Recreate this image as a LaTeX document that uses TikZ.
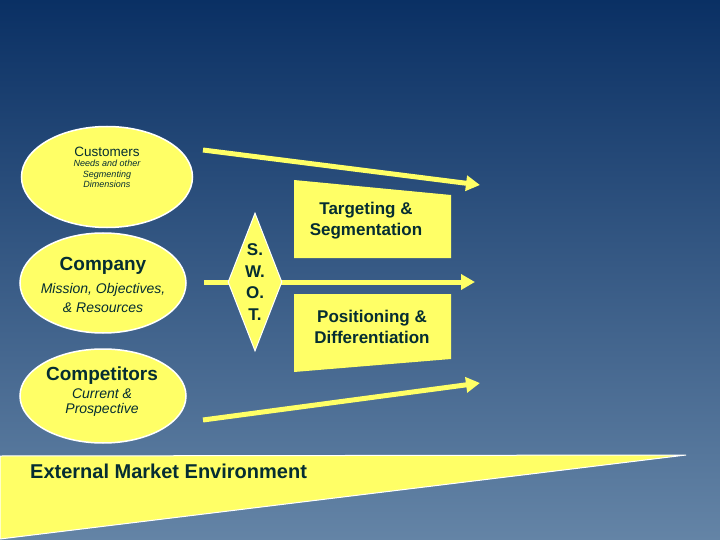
\documentclass[tikz,border=0pt]{standalone}
\usepackage{fontspec}
\setmainfont{Liberation Sans}
\usepackage{tikz}
\usetikzlibrary{shapes.geometric}
\usetikzlibrary{arrows.meta, positioning}
\definecolor{bgtop}{RGB}{10,48,100}
\definecolor{bgmid}{RGB}{56,88,132}
\definecolor{bgbot}{RGB}{100,132,166}
\definecolor{pale}{RGB}{255,255,102}
\definecolor{ink}{RGB}{5,45,50}
\newcommand{\fsize}[2]{\fontsize{#1}{#2}\selectfont}

\begin{document}
\begin{tikzpicture}[x=1pt, y=-1pt,
	blob/.style={ellipse, fill=pale, draw=white, line width=1.5pt, inner sep=0pt},
	arr/.style={pale, line width=5pt, -{Triangle[length=14pt, width=15pt]}},
	lbl/.style={text=ink, align=center, inner sep=0pt}]
	\useasboundingbox (0,0) rectangle (720,540);
	\shade[top color=bgtop, middle color=bgmid, bottom color=bgbot] (0,0) rectangle (720,540);
	% External market wedge
	\draw[fill=pale, draw=white, line width=1pt] (0,456) -- (686,455) -- (0,539) -- cycle;
	\node[lbl, anchor=west, font=\bfseries\fsize{20}{24}] (ext) at (30,471) {External Market Environment};

	% Ellipses on the left
	\node[blob, minimum width=171pt, minimum height=101pt] (cust) at (107,177) {};
	\node[lbl, font=\fsize{13.5}{16}] (custname) at (107,152) {Customers};
	\node[lbl, font=\itshape\fsize{9}{10.5}] (custsub) at (107,174) {Needs and other\\Segmenting\\Dimensions};

	\node[blob, minimum width=166pt, minimum height=100pt] (comp) at (103,283) {};
	\node[lbl, font=\bfseries\fsize{19}{22}] (compname) at (103,266) {Company};
	\node[lbl, font=\itshape\fsize{14}{19}] (compsub) at (103,297.5) {Mission, Objectives,\\\& Resources};

	\node[blob, minimum width=166pt, minimum height=94pt] (rival) at (103,396) {};
	\node[lbl, font=\bfseries\fsize{19}{22}] (rivalname) at (102,376) {Competitors};
	\node[lbl, font=\itshape\fsize{14}{15}] (rivalsub) at (102,402.5) {Current \&\\Prospective};

	% Arrows
	\coordinate (a1) at (203,150);
	\coordinate (b1) at (480,185);
	\coordinate (a2) at (204,282);
	\coordinate (b2) at (475,282);
	\coordinate (a3) at (203,420);
	\coordinate (b3) at (480,383);
	\draw[arr] (a1) -- (b1);
	\draw[arr] (a2) -- (b2);
	\draw[arr] (a3) -- (b3);

	% Boxes on the right
	\fill[pale] (294,180) -- (451,195) -- (451,258) -- (294,258) -- cycle;
	\node[lbl, font=\bfseries\fsize{17}{21}] (tgt) at (366,220.5) {Targeting \&\\Segmentation};
	\fill[pale] (294,294) -- (451,294) -- (451,359) -- (294,372) -- cycle;
	\node[lbl, font=\bfseries\fsize{17}{21}] (pos) at (372,326.5) {Positioning \&\\Differentiation};

	% SWOT diamond
	\node[diamond, fill=pale, draw=white, line width=1pt, minimum width=54pt, minimum height=138pt, inner sep=0pt] (swot) at (255,282) {};
	\node[lbl, font=\bfseries\fsize{17}{21.7}] (swottxt) at (swot) {S.\\W.\\O.\\T.};
\end{tikzpicture}
\end{document}
